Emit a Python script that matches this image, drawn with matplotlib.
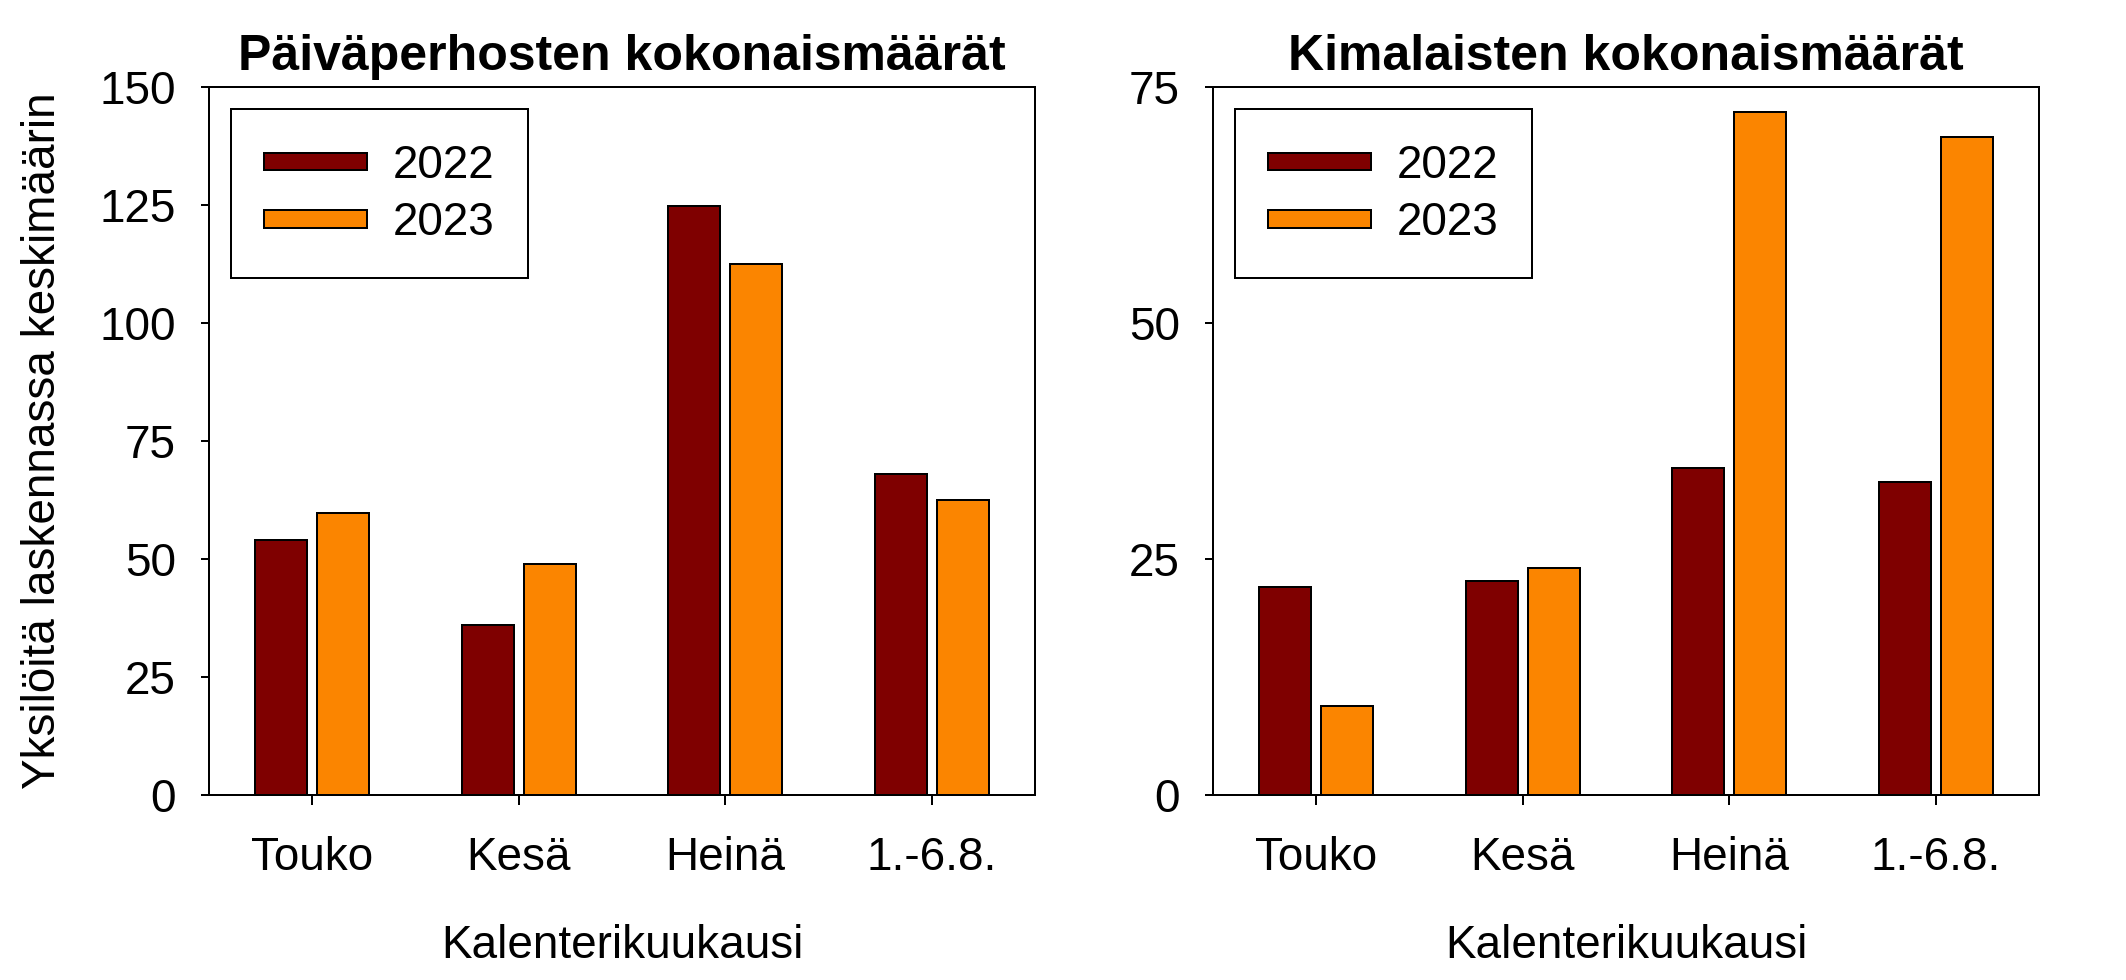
import matplotlib
matplotlib.use("Agg")
import matplotlib.pyplot as plt
import matplotlib.patches as mpatches
from matplotlib.container import BarContainer
from matplotlib.legend_handler import HandlerPatch, update_from_first_child
import numpy as np

plt.rcParams['font.family'] = ['Liberation Sans', 'DejaVu Sans']

# data
months = ["Touko", "Kesä", "Heinä", "1.-6.8."]
years = ["2022", "2023"]
butterflies_2022 = [54.0, 36.0, 124.8, 68.0]
butterflies_2023 = [59.7, 49.0, 112.5, 62.4]
bumblebees_2022 = [22.0, 22.7, 34.6, 33.2]
bumblebees_2023 = [9.4, 24.0, 72.4, 69.7]

titles = ["Päiväperhosten kokonaismäärät", "Kimalaisten kokonaismäärät"]
y_ticks_left = [0, 25, 50, 75, 100, 125, 150]
y_ticks_right = [0, 25, 50, 75]
xlabel = "Kalenterikuukausi"
ylabel = "Yksilöitä laskennassa keskimäärin"

colors = ["#7f0000", "#fb8500"]
FS = 33
LW = 1.44


def thin_patch(legend, orig_handle, xdescent, ydescent, width, height, fontsize):
    # flat legend swatch, centred on the digits
    return mpatches.Rectangle((-xdescent, 0.16 * fontsize), width, 0.39 * fontsize)


def draw_panel(ax, vals_a, vals_b, title, yticks):
    x = np.arange(len(months))
    w = 0.25
    ax.bar(x - 0.15, vals_a, w, color=colors[0], edgecolor="black",
           linewidth=LW, label=years[0])
    ax.bar(x + 0.15, vals_b, w, color=colors[1], edgecolor="black",
           linewidth=LW, label=years[1])
    ax.set_xlim(-0.5, len(months) - 0.5)
    ax.set_ylim(yticks[0], yticks[-1])
    ax.set_xticks(x)
    ax.set_xticklabels(months)
    ax.set_yticks(yticks)
    ax.tick_params(axis="y", direction="out", length=5.8, width=LW,
                   labelsize=FS, pad=18)
    ax.tick_params(axis="x", direction="out", length=7.2, width=LW,
                   labelsize=FS, pad=22)
    for sp in ax.spines.values():
        sp.set_linewidth(LW)
    ax.set_title(title, fontsize=36, fontweight="bold", pad=12)
    ax.set_xlabel(xlabel, fontsize=FS)
    ax.xaxis.set_label_coords(0.5, -0.1815)
    handler = HandlerPatch(patch_func=thin_patch, update_func=update_from_first_child)
    leg = ax.legend(loc="upper left", bbox_to_anchor=(0, 1), fontsize=FS,
                    borderaxespad=0.47, borderpad=0.72, labelspacing=0.25,
                    handlelength=2.25, handleheight=1.0, handletextpad=0.57,
                    fancybox=False, framealpha=1, edgecolor="black",
                    handler_map={BarContainer: handler})
    leg.get_frame().set_linewidth(LW)


fig = plt.figure(figsize=(21.26, 9.8), dpi=100)
ax1 = fig.add_axes([209 / 2126, 185 / 980, 826 / 2126, 708 / 980])
ax2 = fig.add_axes([1213 / 2126, 185 / 980, 826 / 2126, 708 / 980])

draw_panel(ax1, butterflies_2022, butterflies_2023, titles[0], y_ticks_left)
draw_panel(ax2, bumblebees_2022, bumblebees_2023, titles[1], y_ticks_right)

ax1.set_ylabel(ylabel, fontsize=FS)
ax1.yaxis.set_label_coords(-0.174, 0.5)

fig.savefig("out.png", dpi=100)
